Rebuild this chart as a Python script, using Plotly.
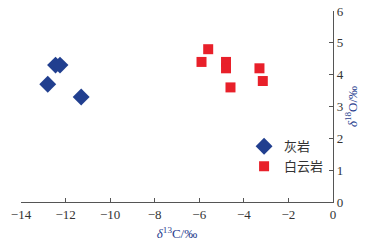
import plotly.graph_objects as go

limestone_x = [-12.8, -12.45, -12.25, -11.3]
limestone_y = [3.7, 4.3, 4.3, 3.3]
dolomite_x = [-5.9, -5.6, -4.8, -4.8, -4.6, -3.3, -3.15]
dolomite_y = [4.4, 4.8, 4.4, 4.2, 3.6, 4.2, 3.8]
x_ticks = [-14, -12, -10, -8, -6, -4, -2, 0]
y_ticks = [0, 1, 2, 3, 4, 5, 6]

serif = "Liberation Serif"
axis_col = "#555555"
txt_col = "#333333"

fig = go.Figure()
fig.add_trace(go.Scatter(x=limestone_x, y=limestone_y, mode="markers", name="灰岩",
                         marker=dict(symbol="diamond", size=13, color="#213f8f")))
fig.add_trace(go.Scatter(x=dolomite_x, y=dolomite_y, mode="markers", name="白云岩",
                         marker=dict(symbol="square", size=10, color="#e8202a")))

fig.update_layout(
    width=378, height=246,
    margin=dict(l=21, r=45, t=11, b=44),
    plot_bgcolor="white", paper_bgcolor="white",
    showlegend=True,
    legend=dict(x=0.715, y=0.37, xanchor="left", yanchor="top",
                font=dict(family="Noto Sans CJK SC", size=13, color=txt_col),
                bgcolor="rgba(0,0,0,0)", itemwidth=30, tracegroupgap=0),
    xaxis=dict(range=[-14, 0], tickvals=x_ticks, ticktext=["−" + str(abs(v)) if v < 0 else str(v) for v in x_ticks],
               showgrid=False, zeroline=False, showline=True, linecolor=axis_col, linewidth=1.2,
               ticks="inside", ticklen=4, tickcolor=axis_col, automargin=False,
               tickfont=dict(family=serif, size=13, color=txt_col),
               title=dict(text="<i>δ</i><sup>13</sup>C/‰", font=dict(family=serif, size=13, color="#2a3f8f"), standoff=8)),
    yaxis=dict(range=[0, 6], tickvals=y_ticks, side="right",
               showgrid=False, zeroline=False, showline=True, linecolor=axis_col, linewidth=1.2,
               ticks="inside", ticklen=4, tickcolor=axis_col, automargin=False,
               tickfont=dict(family=serif, size=13, color=txt_col),
               title=dict(text="<i>δ</i><sup>18</sup>O/‰", font=dict(family=serif, size=13, color="#2a3f8f"), standoff=0)),
)

fig.write_html("out.html", config={"displayModeBar": False},
               post_script="document.body.style.margin='0';")
